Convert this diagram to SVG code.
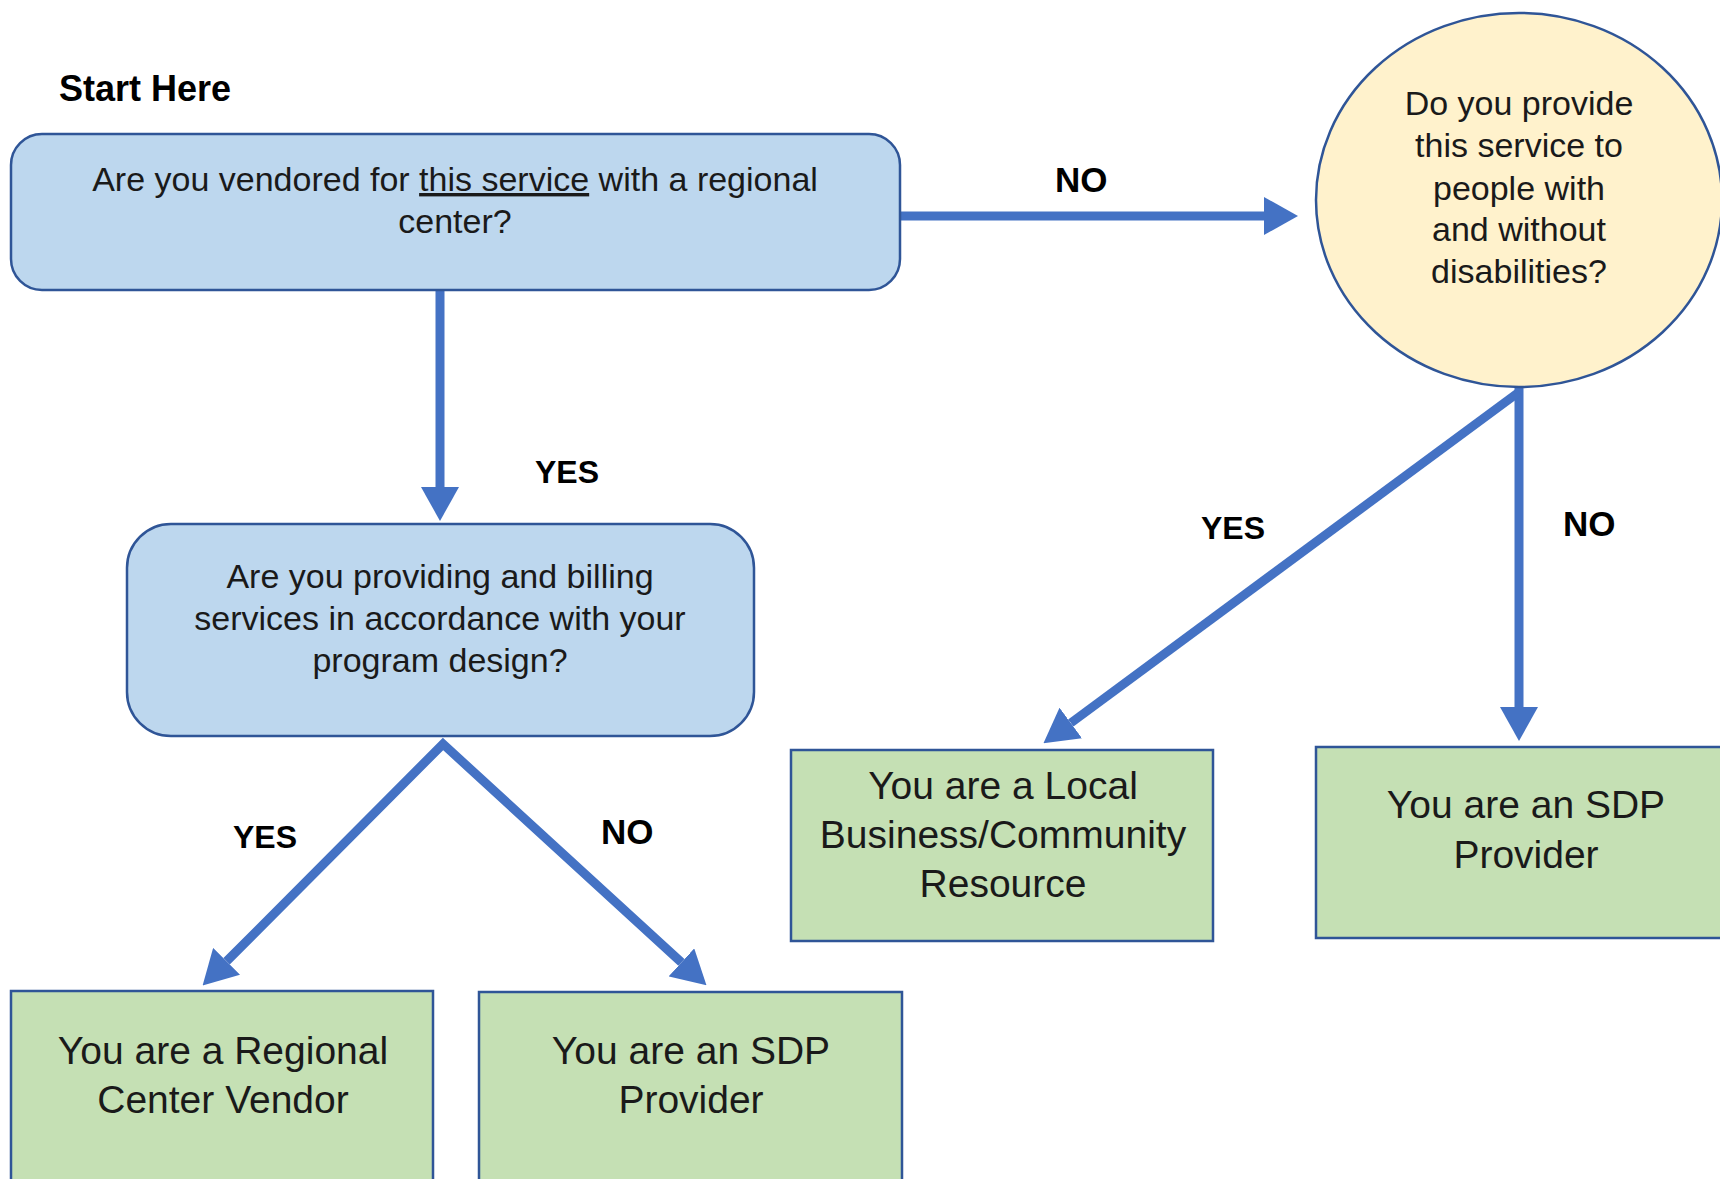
<svg xmlns="http://www.w3.org/2000/svg" width="1720" height="1179" viewBox="0 0 1720 1179">
<style>
.q{fill:#BDD7EE;stroke:#2F5597;stroke-width:2.5}
.c{fill:#FFF2CC;stroke:#2F5597;stroke-width:2.5}
.r{fill:#C5E0B4;stroke:#2F5597;stroke-width:2.5}
.t{font-family:"Liberation Sans",Arial,sans-serif;font-size:34px;fill:#1a1a1a;text-anchor:middle}
.tb{font-family:"Liberation Sans",Arial,sans-serif;font-size:39px;fill:#1a1a1a;text-anchor:middle}
.lb{font-family:"Liberation Sans",Arial,sans-serif;font-size:32px;font-weight:bold;fill:#000}
.no{font-size:35px}
.a{fill:none;stroke:#4472C4;stroke-width:9;stroke-linejoin:miter;marker-end:url(#ah)}
</style>
<defs>
<marker id="ah" viewBox="0 0 34 38" refX="0" refY="19" markerWidth="34" markerHeight="38" markerUnits="userSpaceOnUse" orient="auto-start-reverse">
<path d="M0,0 L34,19 L0,38 Z" fill="#4472C4"/>
</marker>
</defs>
<rect width="1720" height="1179" fill="#fff"/>
<text class="lb" x="59" y="101" style="font-size:36px">Start Here</text>

<g id="connectors">
<path class="a" d="M440,290 L440,487"/>
<path class="a" d="M900,216 L1264,216"/>
<path class="a" d="M226.6,961.3 L443,744 L681.4,962.4" style="marker-start:url(#ah)"/>
<path class="a" d="M1519,386 L1519,707"/>
<path class="a" d="M1519,392 L1070.8,723"/>
<text class="lb" x="535" y="483">YES</text>
<text class="lb no" x="1055" y="192">NO</text>
<text class="lb" x="233" y="848">YES</text>
<text class="lb no" x="601" y="844">NO</text>
<text class="lb" x="1201" y="539">YES</text>
<text class="lb no" x="1563" y="536">NO</text>
</g>

<g id="q1">
<rect class="q" x="11" y="134" width="889" height="156" rx="31"/>
<text class="t" x="455" y="191">Are you vendored for <tspan text-decoration="underline">this service</tspan> with a regional</text>
<text class="t" x="455" y="233">center?</text>
</g>

<g id="q2">
<rect class="q" x="127" y="524" width="627" height="212" rx="44"/>
<text class="t" x="440" y="588">Are you providing and billing</text>
<text class="t" x="440" y="630">services in accordance with your</text>
<text class="t" x="440" y="672">program design?</text>
</g>

<g id="q3">
<ellipse class="c" cx="1519" cy="200" rx="203" ry="187"/>
<text class="t" x="1519" y="115">Do you provide</text>
<text class="t" x="1519" y="157">this service to</text>
<text class="t" x="1519" y="200">people with</text>
<text class="t" x="1519" y="241">and without</text>
<text class="t" x="1519" y="283">disabilities?</text>
</g>

<g id="r1">
<rect class="r" x="11" y="991" width="422" height="200"/>
<text class="tb" x="223" y="1064">You are a Regional</text>
<text class="tb" x="223" y="1113">Center Vendor</text>
</g>

<g id="r2">
<rect class="r" x="479" y="992" width="423" height="200"/>
<text class="tb" x="691" y="1064">You are an SDP</text>
<text class="tb" x="691" y="1113">Provider</text>
</g>

<g id="r3">
<rect class="r" x="791" y="750" width="422" height="191"/>
<text class="tb" x="1003" y="799">You are a Local</text>
<text class="tb" x="1003" y="848">Business/Community</text>
<text class="tb" x="1003" y="897">Resource</text>
</g>

<g id="r4">
<rect class="r" x="1316" y="747" width="420" height="191"/>
<text class="tb" x="1526" y="818">You are an SDP</text>
<text class="tb" x="1526" y="868">Provider</text>
</g>
</svg>
